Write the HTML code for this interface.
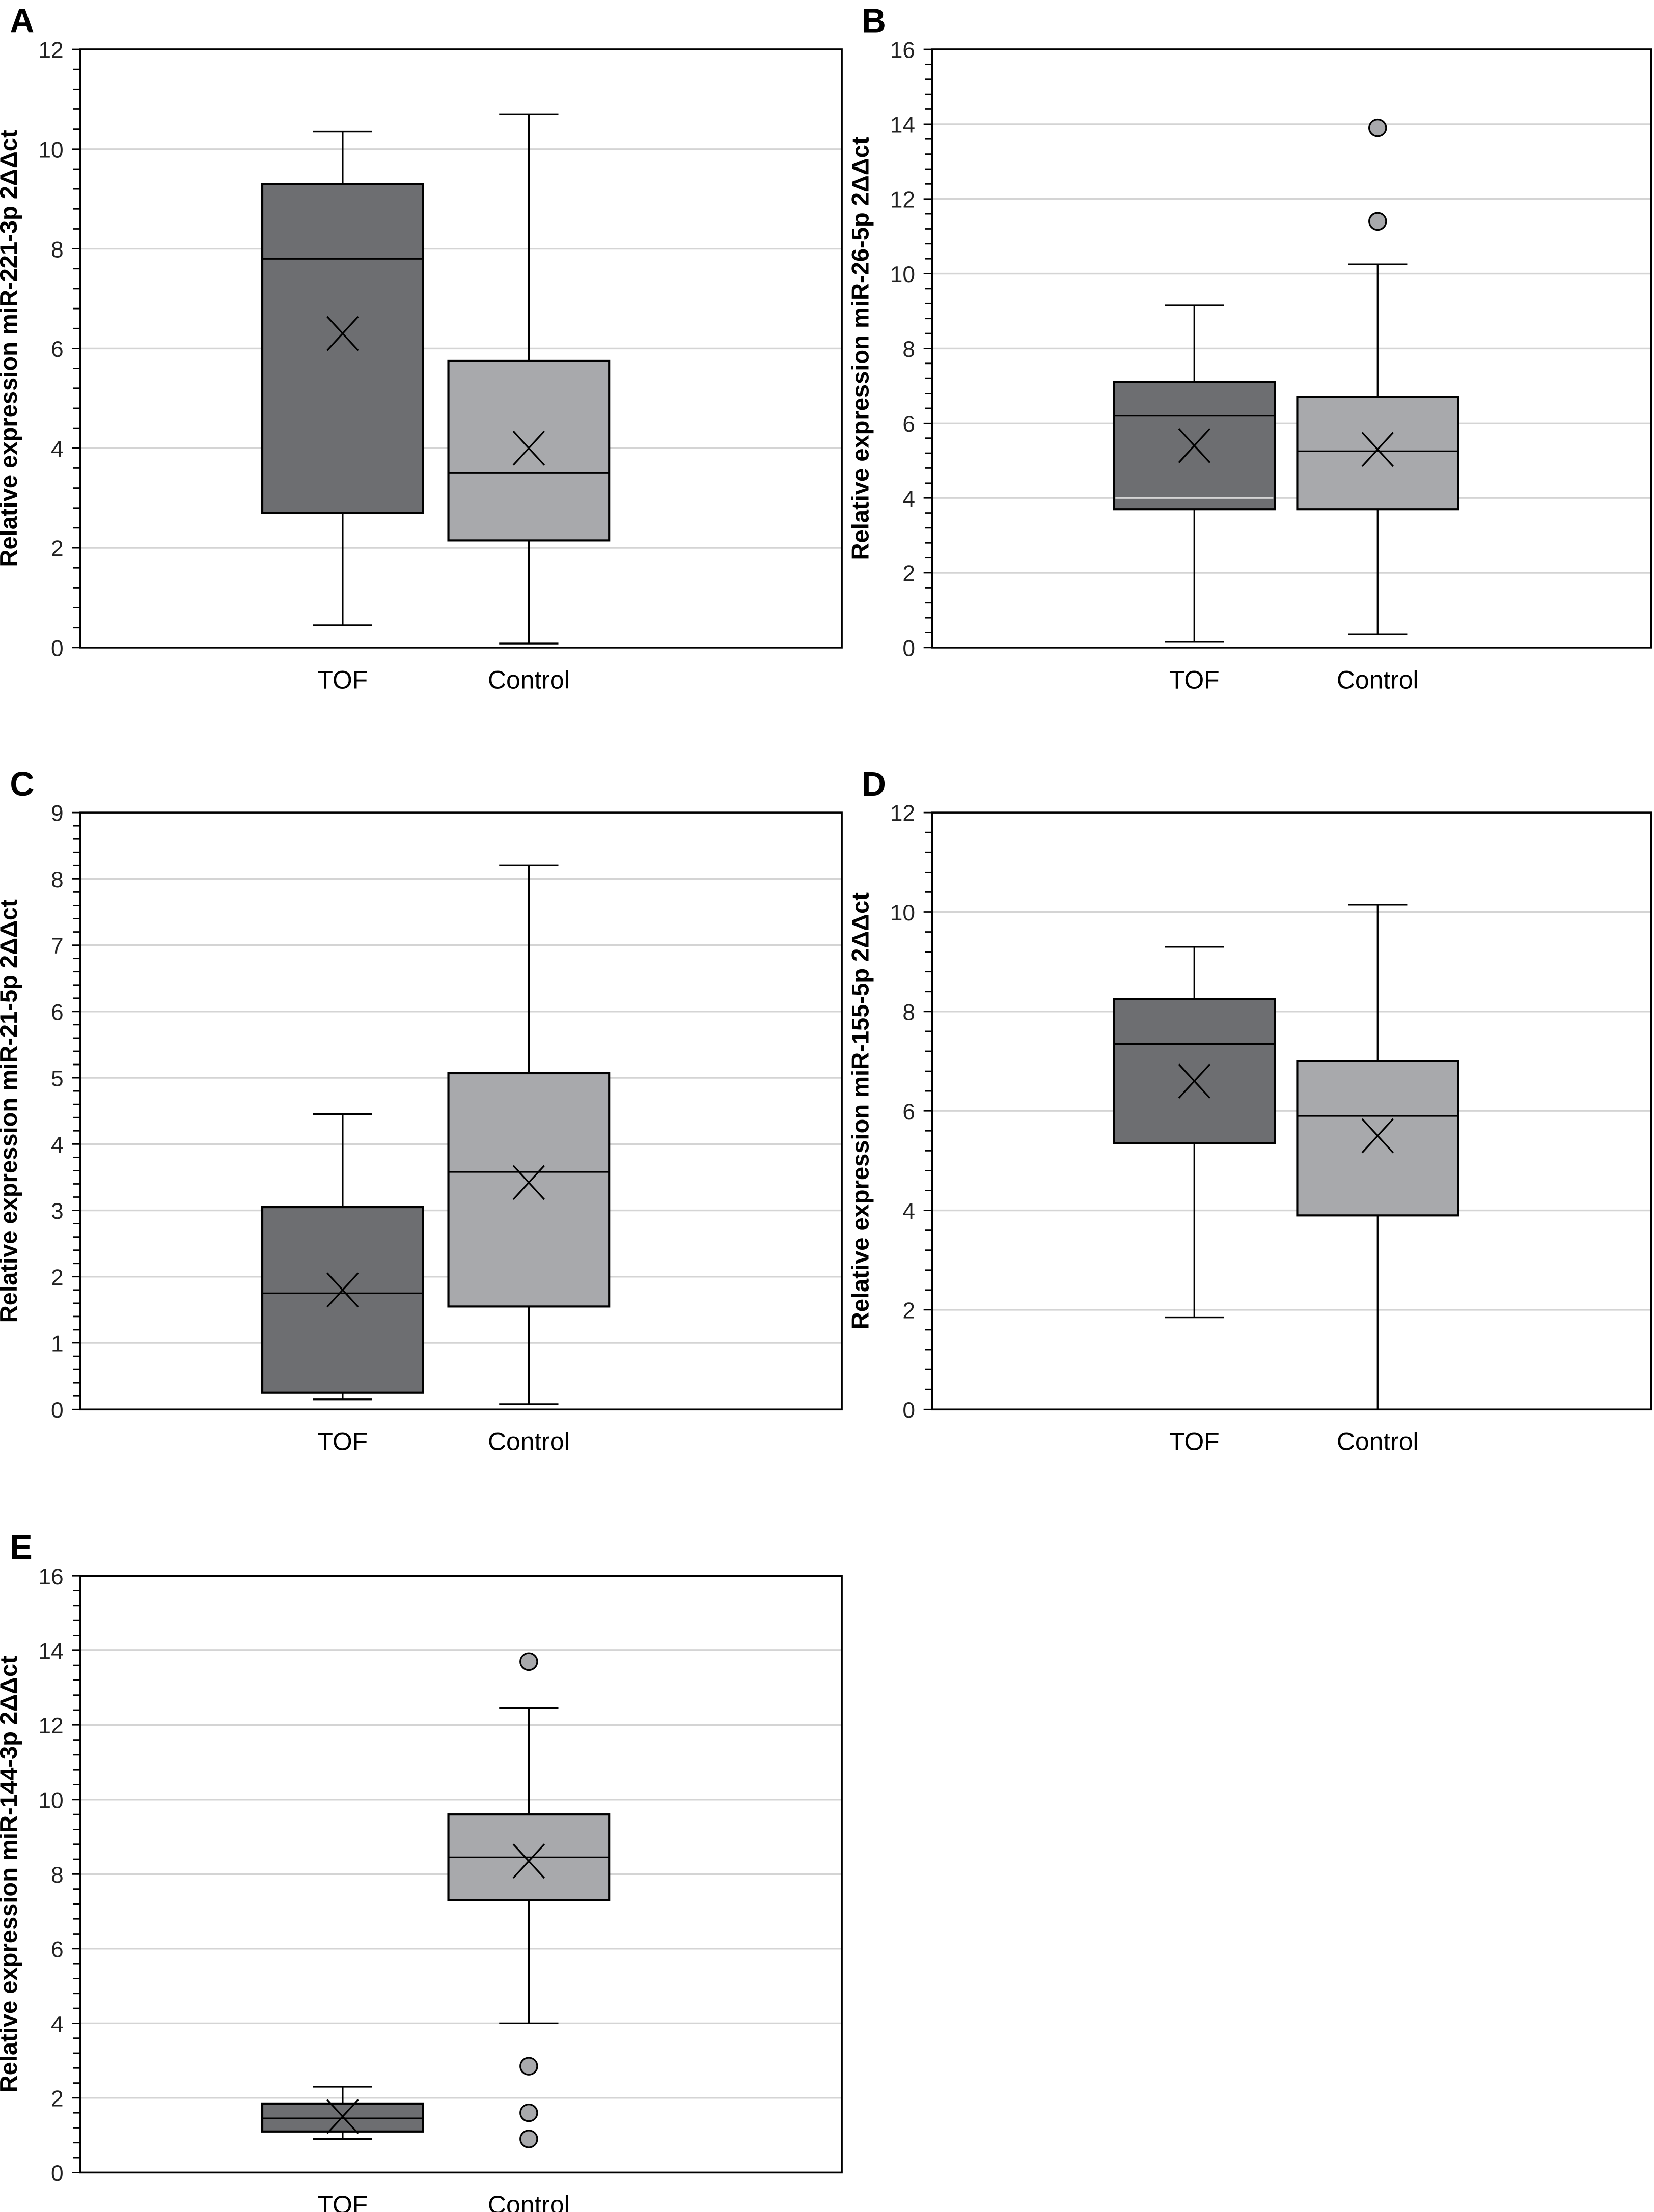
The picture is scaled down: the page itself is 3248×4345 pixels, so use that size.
<!DOCTYPE html>
<html><head><meta charset="utf-8"><style>
html,body{margin:0;padding:0;background:#fff}
svg{display:block}
</style></head><body>
<svg id="s" xmlns="http://www.w3.org/2000/svg" width="3248" height="4345" viewBox="0 0 1173 1568" preserveAspectRatio="none" font-family="'Liberation Sans', sans-serif"></svg>
<script>
var s=document.getElementById('s'),h='';
var panels=[
{L:'A',x0:57,x1:597,y0:35,y1:459,max:12,step:2,title:'Relative expression miR-221-3p 2\u0394\u0394ct',cx:[243,375],
 d:[[0.45,2.7,7.8,9.3,10.35,6.3,[]],[0.08,2.15,3.5,5.75,10.7,4.0,[]]]},
{L:'B',x0:661,x1:1171,y0:35,y1:459,max:16,step:2,title:'Relative expression miR-26-5p 2\u0394\u0394ct',cx:[847,977],
 d:[[0.15,3.7,6.2,7.1,9.15,5.4,[]],[0.35,3.7,5.25,6.7,10.25,5.3,[11.4,13.9]]],over:true},
{L:'C',x0:57,x1:597,y0:576,y1:999,max:9,step:1,title:'Relative expression miR-21-5p 2\u0394\u0394ct',cx:[243,375],
 d:[[0.15,0.25,1.75,3.05,4.45,1.8,[]],[0.08,1.55,3.58,5.07,8.2,3.42,[]]]},
{L:'D',x0:661,x1:1171,y0:576,y1:999,max:12,step:2,title:'Relative expression miR-155-5p 2\u0394\u0394ct',cx:[847,977],
 d:[[1.85,5.35,7.35,8.25,9.3,6.6,[]],[0.0,3.9,5.9,7.0,10.15,5.5,[]]]},
{L:'E',x0:57,x1:597,y0:1117,y1:1540,max:16,step:2,title:'Relative expression miR-144-3p 2\u0394\u0394ct',cx:[243,375],
 d:[[0.9,1.1,1.45,1.85,2.3,1.5,[]],[4.0,7.3,8.45,9.6,12.45,8.35,[13.7,2.85,1.6,0.9]]]}
];
var fills=['#6d6e71','#a8a9ac'];
panels.forEach(function(p){
 function Y(v){return p.y1-(p.y1-p.y0)*v/p.max;}
 h+='<text x="'+(p.x0-50)+'" y="'+(p.y0-12)+'" font-size="24" font-weight="bold">'+p.L+'</text>';
 for(var v=p.step;v<p.max;v+=p.step){h+='<line x1="'+p.x0+'" x2="'+p.x1+'" y1="'+Y(v)+'" y2="'+Y(v)+'" stroke="#d4d4d4" stroke-width="1.2"/>';}
 var mn=p.step/5;
 for(var i=0;i<=p.max/mn+0.01;i++){var v=i*mn,maj=(i%5==0);
  h+='<line x1="'+(p.x0-(maj?6:5))+'" x2="'+p.x0+'" y1="'+Y(v)+'" y2="'+Y(v)+'" stroke="#000" stroke-width="1"/>';
  if(maj)h+='<text x="'+(p.x0-12)+'" y="'+(Y(v)+6)+'" font-size="16" text-anchor="end" fill="#222">'+Math.round(v)+'</text>';}
 h+='<text transform="translate('+(p.x0-45)+','+((p.y0+p.y1)/2)+') rotate(-90)" font-size="17" font-weight="bold" text-anchor="middle">'+p.title+'</text>';
 ['TOF','Control'].forEach(function(n,k){h+='<text x="'+p.cx[k]+'" y="'+(p.y1+29)+'" font-size="18" text-anchor="middle">'+n+'</text>';});
 p.d.forEach(function(d,k){var c=p.cx[k],w=57,cap=21;
  h+='<line x1="'+c+'" x2="'+c+'" y1="'+Y(d[0])+'" y2="'+Y(d[4])+'" stroke="#000" stroke-width="1.2"/>';
  h+='<line x1="'+(c-cap)+'" x2="'+(c+cap)+'" y1="'+Y(d[0])+'" y2="'+Y(d[0])+'" stroke="#000" stroke-width="1.2"/>';
  h+='<line x1="'+(c-cap)+'" x2="'+(c+cap)+'" y1="'+Y(d[4])+'" y2="'+Y(d[4])+'" stroke="#000" stroke-width="1.2"/>';
  h+='<rect x="'+(c-w)+'" y="'+Y(d[3])+'" width="'+(2*w)+'" height="'+(Y(d[1])-Y(d[3]))+'" fill="'+fills[k]+'" stroke="#000" stroke-width="1.5"/>';
  if(p.over&&k==0)h+='<line x1="'+(c-w+1)+'" x2="'+(c+w-1)+'" y1="'+Y(4)+'" y2="'+Y(4)+'" stroke="#d4d4d4" stroke-width="1.2"/>';
  h+='<line x1="'+(c-w)+'" x2="'+(c+w)+'" y1="'+Y(d[2])+'" y2="'+Y(d[2])+'" stroke="#000" stroke-width="1.2"/>';
  var m=Y(d[5]);
  h+='<path d="M'+(c-11)+' '+(m-12)+'L'+(c+11)+' '+(m+12)+'M'+(c+11)+' '+(m-12)+'L'+(c-11)+' '+(m+12)+'" stroke="#000" stroke-width="1.2" fill="none"/>';
  d[6].forEach(function(o){h+='<circle cx="'+c+'" cy="'+Y(o)+'" r="6" fill="#a8a9ac" stroke="#000" stroke-width="1.2"/>';});
 });
 h+='<rect x="'+p.x0+'" y="'+p.y0+'" width="'+(p.x1-p.x0)+'" height="'+(p.y1-p.y0)+'" fill="none" stroke="#000" stroke-width="1.3"/>';
});
s.innerHTML=h;
</script>
</body></html>
